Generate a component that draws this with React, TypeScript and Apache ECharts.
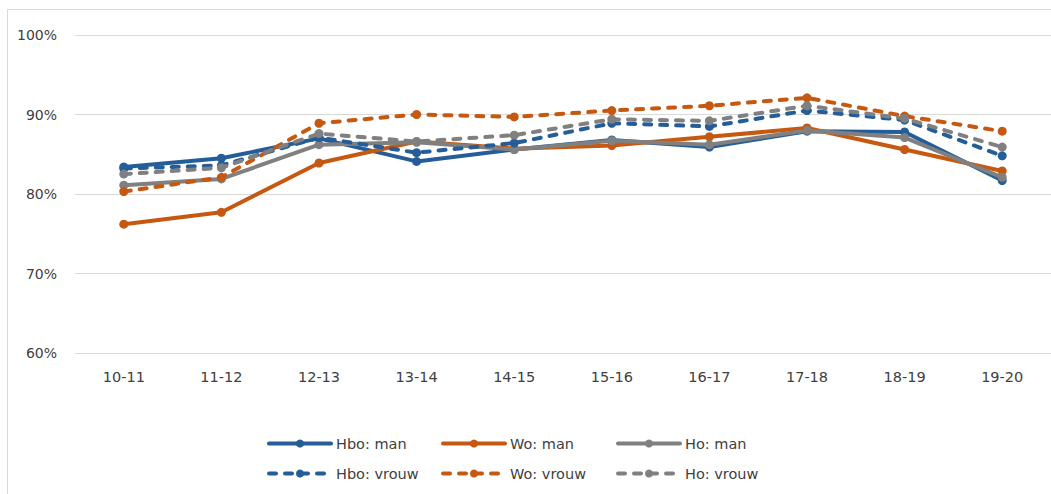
import React, { useEffect, useRef } from "react";
import * as echarts from "echarts";

const categories = ["10-11", "11-12", "12-13", "13-14", "14-15", "15-16", "16-17", "17-18", "18-19", "19-20"];
const hboMan = [83.4, 84.5, 87.0, 84.1, 85.6, 86.8, 85.9, 87.9, 87.8, 81.7];
const woMan = [76.2, 77.7, 83.9, 86.6, 85.7, 86.1, 87.2, 88.3, 85.6, 82.9];
const hoMan = [81.1, 81.9, 86.2, 86.5, 85.6, 86.7, 86.2, 88.0, 87.1, 82.1];
const hboVrouw = [83.2, 83.6, 87.1, 85.2, 86.4, 88.9, 88.5, 90.5, 89.3, 84.8];
const woVrouw = [80.3, 82.1, 88.9, 90.0, 89.7, 90.5, 91.1, 92.1, 89.8, 87.9];
const hoVrouw = [82.5, 83.3, 87.6, 86.6, 87.4, 89.4, 89.2, 91.1, 89.5, 85.9];

const seriesNames = ["Hbo: man", "Wo: man", "Ho: man", "Hbo: vrouw", "Wo: vrouw", "Ho: vrouw"];
const seriesData = [hboMan, woMan, hoMan, hboVrouw, woVrouw, hoVrouw];

const BLUE = "#245D97";
const ORANGE = "#C65911";
const GRAY = "#808080";
const colors = [BLUE, ORANGE, GRAY, BLUE, ORANGE, GRAY];
const dashed = [false, false, false, true, true, true];
const FONT = "DejaVu Sans";

export default function App() {
  const ref = useRef<HTMLDivElement>(null);
  useEffect(() => {
    if (!ref.current) return;
    const chart = echarts.init(ref.current, undefined, { renderer: "svg" });
    const legendPos = [
      [267, 436], [441, 436], [616, 436],
      [267, 466], [441, 466], [616, 466],
    ];
    chart.setOption({
      animation: false,
      graphic: [
        {
          type: "rect",
          shape: { x: 7.5, y: 9.5, width: 1200, height: 600 },
          style: { fill: "none", stroke: "#d9d9d9", lineWidth: 1 },
          silent: true,
        },
      ],
      grid: { left: 75, top: 35, width: 977, height: 318, containLabel: false },
      xAxis: {
        type: "category",
        data: categories,
        boundaryGap: true,
        axisLine: { show: true, lineStyle: { color: "#d9d9d9", width: 1 } },
        axisTick: { show: false },
        axisLabel: { color: "#404040", fontFamily: FONT, fontSize: 14.5, margin: 16 },
      },
      yAxis: {
        type: "value",
        min: 60,
        max: 100,
        interval: 10,
        axisLine: { show: false },
        axisTick: { show: false },
        splitLine: { lineStyle: { color: "#d9d9d9", width: 1 } },
        axisLabel: {
          formatter: "{value}%",
          color: "#404040",
          fontFamily: FONT,
          fontSize: 14,
          margin: 18,
        },
      },
      legend: seriesNames.map((n, i) => ({
        data: [n],
        left: legendPos[i][0],
        top: legendPos[i][1],
        itemWidth: 62,
        itemHeight: 10,
        itemGap: 0,
        padding: 0,
        lineStyle: { width: 4 },
        textStyle: { color: "#404040", fontFamily: FONT, fontSize: 14.5 },
      })),
      series: seriesNames.map((n, i) => ({
        name: n,
        type: "line",
        data: seriesData[i],
        symbol: "circle",
        symbolSize: 9,
        color: colors[i],
        itemStyle: { color: colors[i] },
        lineStyle: {
          color: colors[i],
          width: 4,
          type: dashed[i] ? [7, 9] : "solid",
          cap: "round",
        },
        z: 2 + i,
      })),
    });
    return () => chart.dispose();
  }, []);
  return (
    <div
      ref={ref}
      style={{ position: "absolute", left: 0, top: 0, width: 1051, height: 494, background: "#fff" }}
    />
  );
}
